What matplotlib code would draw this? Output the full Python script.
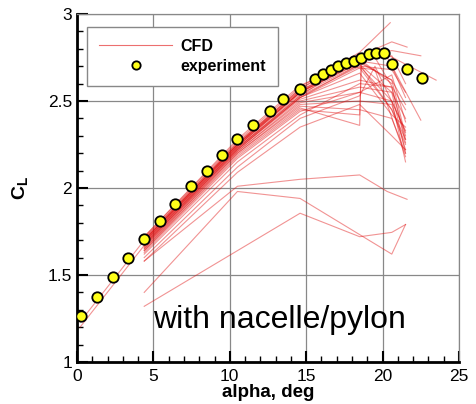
import numpy as np
import matplotlib
matplotlib.use("Agg")
import matplotlib.pyplot as plt
from matplotlib.ticker import MultipleLocator

plt.rcParams["font.family"] = ["Liberation Sans", "DejaVu Sans"]
plt.rcParams["mathtext.fontset"] = "custom"
plt.rcParams["mathtext.rm"] = "Liberation Sans"
plt.rcParams["mathtext.bf"] = "Liberation Sans:bold"

# experiment
exp_alpha = [0.28, 1.29, 2.38, 3.36, 4.36, 5.43, 6.41, 7.46, 8.5, 9.5, 10.5,
             11.5, 12.6, 13.5, 14.57, 15.58, 16.08, 16.6, 17.08, 17.6, 18.1,
             18.6, 19.1, 19.6, 20.1, 20.6, 21.6, 22.6]
exp_cl = [1.264, 1.375, 1.49, 1.60, 1.705, 1.81, 1.91, 2.01, 2.10, 2.19, 2.28,
          2.36, 2.44, 2.51, 2.571, 2.626, 2.655, 2.678, 2.70, 2.72, 2.73,
          2.75, 2.768, 2.774, 2.778, 2.713, 2.684, 2.634]

# CFD runs (alpha, CL)
grid6 = [4.4, 10.5, 14.6, 18.5, 20.6, 21.5]
cfd_runs = [
    ([4.4, 10.5, 14.6, 18.5, 20.5], [1.72, 2.27, 2.58, 2.78, 2.95]),
    ([4.4, 10.5, 14.6, 18.5, 20.6, 21.6], [1.71, 2.26, 2.57, 2.76, 2.84, 2.81]),
    ([4.4, 10.5, 14.6, 18.5, 20.6, 22.5], [1.71, 2.26, 2.56, 2.74, 2.79, 2.76]),
    ([4.4, 10.5, 14.6, 18.5, 20.0, 23.5], [1.70, 2.25, 2.56, 2.73, 2.78, 2.62]),
    ([4.4, 10.5, 14.6, 18.5, 20.0, 22.5], [1.70, 2.25, 2.55, 2.72, 2.80, 2.39]),
    (grid6, [1.69, 2.24, 2.55, 2.72, 2.62, 2.30]),
    (grid6, [1.69, 2.24, 2.54, 2.71, 2.55, 2.20]),
    (grid6, [1.68, 2.23, 2.53, 2.70, 2.50, 2.15]),
    (grid6, [1.68, 2.23, 2.52, 2.69, 2.45, 2.25]),
    (grid6, [1.67, 2.22, 2.52, 2.66, 2.42, 2.35]),
    (grid6, [1.67, 2.22, 2.51, 2.62, 2.58, 2.28]),
    (grid6, [1.66, 2.21, 2.50, 2.58, 2.55, 2.40]),
    (grid6, [1.66, 2.21, 2.49, 2.55, 2.50, 2.32]),
    (grid6, [1.65, 2.20, 2.48, 2.50, 2.48, 2.22]),
    (grid6, [1.65, 2.20, 2.47, 2.45, 2.40, 2.20]),
    ([4.4, 10.5, 14.6, 18.5, 18.6, 20.6, 21.5], [1.64, 2.19, 2.46, 2.36, 2.72, 2.62, 2.48]),
    ([4.4, 10.5, 14.6, 18.5, 18.6, 20.6, 21.5], [1.64, 2.18, 2.45, 2.42, 2.70, 2.68, 2.55]),
    (grid6, [1.63, 2.17, 2.44, 2.55, 2.65, 2.38]),
    (grid6, [1.62, 2.15, 2.42, 2.60, 2.58, 2.26]),
    ([4.4, 10.5, 14.6, 17.5, 19.5, 21.5], [1.70, 2.25, 2.57, 2.72, 2.75, 2.45]),
    ([4.4, 10.5, 14.6, 17.5, 19.5, 21.5], [1.69, 2.24, 2.55, 2.70, 2.68, 2.18]),
    ([4.4, 10.5, 14.6, 16.5, 18.5, 20.6], [1.68, 2.23, 2.53, 2.64, 2.74, 2.60]),
    ([4.4, 10.5, 14.6, 18.5, 19.5, 21.5], [1.60, 2.12, 2.40, 2.53, 2.70, 2.33]),
    (grid6, [1.58, 2.09, 2.35, 2.48, 2.30, 2.22]),
    (grid6, [1.72, 2.28, 2.59, 2.73, 2.70, 2.52]),
    ([0.2, 4.4, 10.5, 14.6, 18.5, 20.6, 21.5], [1.20, 1.67, 2.22, 2.52, 2.71, 2.45, 2.28]),
    ([0.2, 4.4, 10.5, 14.6, 18.5, 20.6, 21.5], [1.23, 1.70, 2.25, 2.55, 2.73, 2.76, 2.60]),
    ([4.4, 10.5, 14.6, 20.6, 21.5], [1.40, 1.98, 1.94, 1.62, 1.79]),
    ([4.4, 14.6, 18.5, 20.6, 21.5], [1.32, 1.855, 1.72, 1.745, 1.79]),
    ([4.4, 10.5, 14.6, 18.5, 20.3, 21.6], [1.58, 2.01, 2.05, 2.075, 1.98, 1.935]),
]

fig = plt.figure(figsize=(4.77, 4.04), dpi=100)
ax = fig.add_axes([0.1614, 0.104, 0.8009, 0.8613])

for i, (a, c) in enumerate(cfd_runs):
    ax.plot(a, c, color="#e01010", lw=0.8, alpha=0.45,
            label="CFD" if i == 0 else None, zorder=2)

ax.plot(exp_alpha, exp_cl, "o", ms=7.5, mfc="#ffff1a", mec="black", mew=1.3,
        ls="none", label="experiment", zorder=3)

ax.set_xlim(0, 25)
ax.set_ylim(1, 3)
ax.xaxis.set_major_locator(MultipleLocator(5))
ax.xaxis.set_minor_locator(MultipleLocator(1))
ax.yaxis.set_minor_locator(MultipleLocator(0.1))
ax.set_yticks([1, 1.5, 2, 2.5, 3])
ax.set_yticklabels(["1", "1.5", "2", "2.5", "3"])
ax.tick_params(which="both", direction="in", top=False, right=False,
               labelsize=12.5, width=1.5)
ax.tick_params(which="major", length=8)
ax.tick_params(which="minor", length=4, width=1)
ax.tick_params(axis="x", pad=5)
ax.grid(True, which="major", color="#888888", lw=0.9, zorder=0)
ax.set_axisbelow(True)

for s in ["left", "bottom"]:
    ax.spines[s].set_linewidth(2)
for s in ["top", "right"]:
    ax.spines[s].set_color("#888888")
    ax.spines[s].set_linewidth(0.9)

ax.set_xlabel("alpha, deg", fontsize=13.5, fontweight="bold", labelpad=0)
ax.set_ylabel(r"$\mathbf{C}_\mathbf{L}$", fontsize=14, labelpad=12)

ax.text(5.0, 1.194, "with nacelle/pylon", fontsize=23, ha="left",
        va="baseline", zorder=4)

leg = ax.legend(loc="upper left", bbox_to_anchor=(0.026, 0.963),
                borderaxespad=0, prop={"weight": "bold", "size": 11.5},
                handlelength=4.6, handletextpad=0.5, borderpad=0.75,
                labelspacing=0.3, markerscale=0.8, fancybox=False,
                framealpha=1, edgecolor="#888888")
leg.get_frame().set_linewidth(1.0)
leg.legend_handles[0].set_alpha(0.6)

fig.savefig("out.png", dpi=100)
